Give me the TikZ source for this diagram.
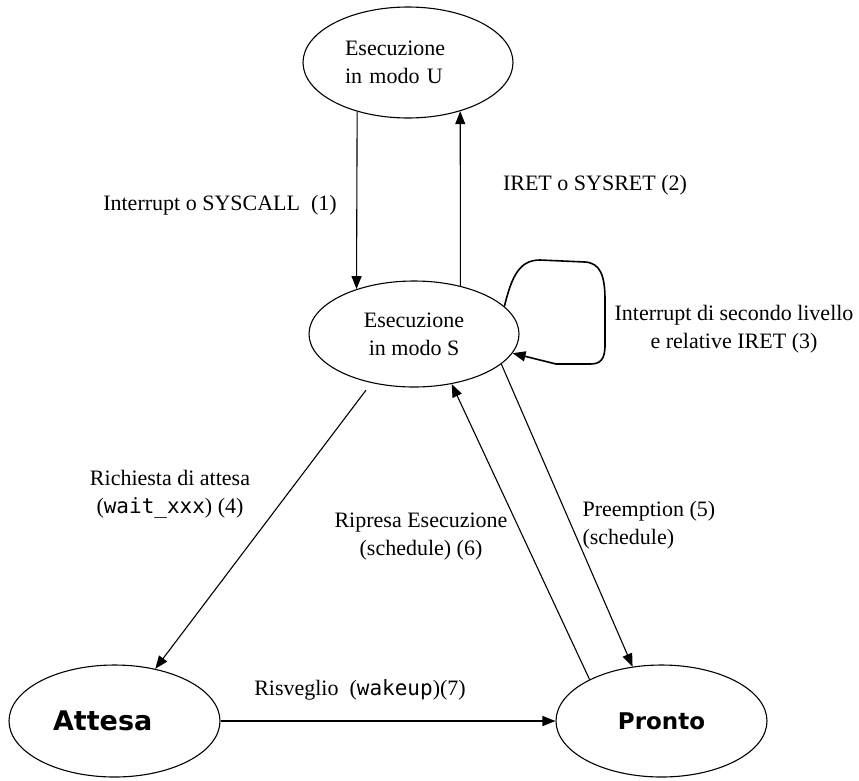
\documentclass[tikz,border=0pt]{standalone}
\usepackage{fontspec}
\setmainfont{Liberation Serif}
\newfontfamily\codefont{DejaVu Sans Mono}
\newfontfamily\statefont{DejaVu Sans}
\usetikzlibrary{arrows.meta, shapes.geometric}
\newcommand{\codetxt}[1]{{\codefont\fontsize{21}{28}\selectfont #1}}

\begin{document}
\begin{tikzpicture}[x=1pt, y=-1pt, line width=1.1pt,
  font=\fontsize{22}{28}\selectfont,
  proc/.style={draw, ellipse, inner sep=0pt, minimum width=210pt, minimum height=111pt},
  arr/.style={-{Triangle[length=13pt,width=10pt]}},
  lbl/.style={inner sep=0pt, align=center}]
  \useasboundingbox (0,0) rectangle (859,780);
  % stati
  \node[proc, text width=126pt, align=left] (U) at (408,62.5) {Esecuzione\\in modo U};
  \node[proc, minimum height=106pt, align=center] (S) at (414,334) {Esecuzione\\in modo S};
  \node[proc, minimum width=211pt, minimum height=112pt, text width=123pt, align=left] (A) at (114.5,721)
    {\statefont\bfseries\fontsize{27}{30}\selectfont Attesa};
  \node[proc, minimum width=211pt, minimum height=112pt] (P) at (661.5,721)
    {\statefont\bfseries\fontsize{23}{28}\selectfont Pronto};
  % transizioni
  \draw[arr] (U.-136.7) -- (S.142);
  \draw[arr] (S.46.8) -- (U.-43.3);
  \draw[arr, line width=1.6pt] (S.17.6) .. controls (512,275) and (520,260) .. (540,260) -- (585,262)
    .. controls (600,263) and (605,275) .. (605,300) -- (605,345)
    .. controls (605,360) and (600,364) .. (590,364) -- (556,364) -- (S.-11.8);
  \draw[arr, shorten <=9pt] (S.-131.6) -- (A.52.3);
  \draw[arr] (S.-19) -- (P.118.7);
  \draw[arr] (P.150) -- (S.-53.6);
  \draw[arr] (A.east) -- (P.west);
  % etichette
  \node[lbl] (l1) at (220,205) {Interrupt o SYSCALL~~(1)};
  \node[lbl] (l2) at (595,185) {IRET o SYSRET (2)};
  \node[lbl] (l3) at (734,329) {Interrupt di secondo livello\\e relative IRET (3)};
  \node[lbl] (l4) at (170,494) {Richiesta di attesa\\(\codetxt{wait\_xxx}) (4)};
  \node[lbl] (l6) at (421,537) {Ripresa Esecuzione\\(schedule) (6)};
  \node[lbl, align=left, anchor=west] (l5) at (582,525) {Preemption (5)\\(schedule)};
  \node[lbl] (l7) at (360,690) {Risveglio~~(\codetxt{wakeup})(7)};
\end{tikzpicture}
\end{document}
